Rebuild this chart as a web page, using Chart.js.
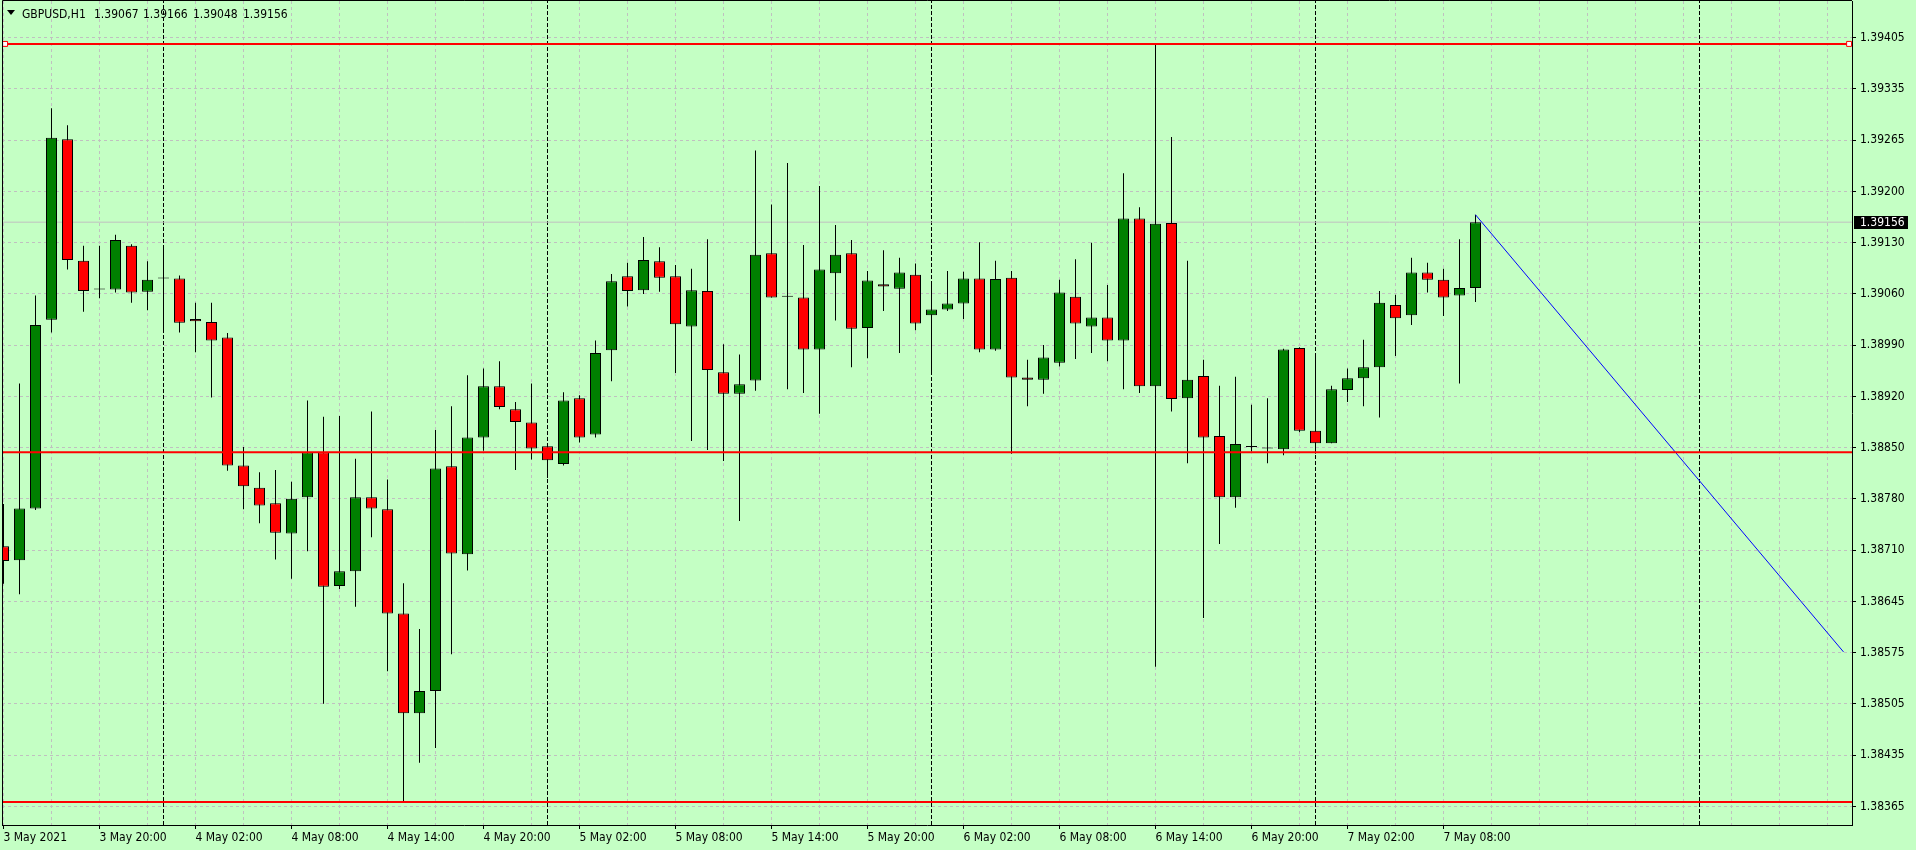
<!DOCTYPE html>
<html>
<head>
<meta charset="utf-8">
<title>GBPUSD,H1</title>
<script src="https://cdn.jsdelivr.net/npm/chart.js@4.4.1/dist/chart.umd.min.js"></script>
<style>
  html, body { margin: 0; padding: 0; background: #c4ffc4; overflow: hidden; }
  #wrap { position: relative; width: 1916px; height: 850px; }
  #chart { position: absolute; left: 0; top: 0; }
  .ttl { position: absolute; top: 7px; font: 12px 'DejaVu Sans Condensed', 'DejaVu Sans', sans-serif; line-height: 14px; color: #000; white-space: pre; }
  #tri { position: absolute; left: 7px; top: 10px; width: 0; height: 0;
         border-left: 4px solid transparent; border-right: 4px solid transparent; border-top: 5px solid #000; }
</style>
</head>
<body>
<div id="wrap">
  <canvas id="chart" width="1916" height="850"></canvas>
  <div id="tri"></div>
  <span class="ttl" id="sym" style="left:22px"></span>
  <span class="ttl" id="q0" style="left:94px"></span>
  <span class="ttl" id="q1" style="left:143px"></span>
  <span class="ttl" id="q2" style="left:193px"></span>
  <span class="ttl" id="q3" style="left:243px"></span>
</div>
<script>
// GBPUSD H1, bar 0 = 3 May 14:00
const symbol = 'GBPUSD,H1';

const opens = [
  1.38718, 1.38699, 1.38769, 1.39024, 1.39268, 1.39104, 1.39065, 1.39065, 1.39124, 1.39062,
  1.39080, 1.39080, 1.39025, 1.39021, 1.39000, 1.38827, 1.38797, 1.38776, 1.38735, 1.38784,
  1.38845, 1.38664, 1.38684, 1.38784, 1.38768, 1.38627, 1.38492, 1.38522, 1.38826, 1.38707,
  1.38865, 1.38934, 1.38903, 1.38885, 1.38853, 1.38829, 1.38918, 1.38869, 1.38983, 1.39083,
  1.39064, 1.39103, 1.39083, 1.39015, 1.39063, 1.38953, 1.38924, 1.38942, 1.39114, 1.39055,
  1.39054, 1.38984, 1.39087, 1.39114, 1.39013, 1.39072, 1.39066, 1.39085, 1.39030, 1.39038,
  1.39046, 1.39080, 1.38984, 1.39081, 1.38946, 1.38943, 1.38966, 1.39055, 1.39015, 1.39027,
  1.38996, 1.39161, 1.38934, 1.39155, 1.38918, 1.38948, 1.38867, 1.38784, 1.38852, 1.38850,
  1.38849, 1.38986, 1.38874, 1.38857, 1.38929, 1.38945, 1.38960, 1.39044, 1.39030, 1.39088,
  1.39078, 1.39057, 1.39067
];
const highs = [
  1.38775, 1.38938, 1.39057, 1.39310, 1.39287, 1.39124, 1.39124, 1.39139, 1.39126, 1.39103,
  1.39120, 1.39084, 1.39047, 1.39047, 1.39006, 1.38852, 1.38818, 1.38821, 1.38805, 1.38915,
  1.38893, 1.38894, 1.38836, 1.38900, 1.38808, 1.38668, 1.38606, 1.38875, 1.38907, 1.38949,
  1.38958, 1.38968, 1.38913, 1.38938, 1.38857, 1.38926, 1.38922, 1.38996, 1.39086, 1.39101,
  1.39136, 1.39122, 1.39098, 1.39093, 1.39133, 1.38991, 1.38977, 1.39253, 1.39180, 1.39236,
  1.39125, 1.39205, 1.39152, 1.39132, 1.39090, 1.39118, 1.39108, 1.39100, 1.39072, 1.39090,
  1.39089, 1.39129, 1.39104, 1.39090, 1.38970, 1.38990, 1.39078, 1.39106, 1.39128, 1.39071,
  1.39222, 1.39176, 1.39398, 1.39271, 1.39104, 1.38970, 1.38935, 1.38947, 1.38909, 1.38918,
  1.38985, 1.38987, 1.38976, 1.38935, 1.38958, 1.38997, 1.39063, 1.39058, 1.39108, 1.39101,
  1.39093, 1.39133, 1.39166
];
const lows = [
  1.38667, 1.38653, 1.38767, 1.39007, 1.39092, 1.39035, 1.39053, 1.39061, 1.39047, 1.39037,
  1.39010, 1.39007, 1.38980, 1.38919, 1.38820, 1.38768, 1.38749, 1.38700, 1.38674, 1.38711,
  1.38505, 1.38660, 1.38636, 1.38730, 1.38549, 1.38372, 1.38425, 1.38445, 1.38572, 1.38685,
  1.38847, 1.38903, 1.38821, 1.38835, 1.38810, 1.38827, 1.38858, 1.38865, 1.38941, 1.39042,
  1.39059, 1.39062, 1.38952, 1.38860, 1.38848, 1.38833, 1.38752, 1.38928, 1.39054, 1.38930,
  1.38925, 1.38897, 1.39023, 1.38960, 1.38972, 1.39036, 1.38979, 1.39010, 1.38954, 1.39036,
  1.39025, 1.38980, 1.38982, 1.38843, 1.38907, 1.38924, 1.38961, 1.38971, 1.38979, 1.38968,
  1.38930, 1.38925, 1.38555, 1.38900, 1.38830, 1.38621, 1.38721, 1.38770, 1.38846, 1.38830,
  1.38841, 1.38872, 1.38843, 1.38857, 1.38913, 1.38907, 1.38892, 1.38975, 1.39017, 1.39061,
  1.39029, 1.38938, 1.39048
];
const closes = [
  1.38698, 1.38769, 1.39017, 1.39270, 1.39105, 1.39063, 1.39065, 1.39132, 1.39061, 1.39078,
  1.39080, 1.39020, 1.39022, 1.38996, 1.38827, 1.38799, 1.38773, 1.38736, 1.38782, 1.38845,
  1.38663, 1.38684, 1.38784, 1.38769, 1.38627, 1.38492, 1.38522, 1.38823, 1.38708, 1.38865,
  1.38934, 1.38906, 1.38886, 1.38850, 1.38834, 1.38915, 1.38865, 1.38979, 1.39076, 1.39063,
  1.39105, 1.39081, 1.39018, 1.39064, 1.38956, 1.38924, 1.38937, 1.39112, 1.39054, 1.39055,
  1.38984, 1.39092, 1.39112, 1.39012, 1.39077, 1.39069, 1.39088, 1.39019, 1.39038, 1.39046,
  1.39080, 1.38984, 1.39079, 1.38946, 1.38943, 1.38973, 1.39061, 1.39019, 1.39027, 1.38996,
  1.39161, 1.38934, 1.39154, 1.38917, 1.38943, 1.38865, 1.38784, 1.38856, 1.38852, 1.38850,
  1.38984, 1.38874, 1.38857, 1.38930, 1.38945, 1.38960, 1.39047, 1.39026, 1.39088, 1.39078,
  1.39054, 1.39067, 1.39156
];

// time axis: a label every 6 bars, starting at bar 0
const timeLabels = [
  '3 May 2021', '3 May 20:00', '4 May 02:00', '4 May 08:00', '4 May 14:00', '4 May 20:00',
  '5 May 02:00', '5 May 08:00', '5 May 14:00', '5 May 20:00', '6 May 02:00', '6 May 08:00',
  '6 May 14:00', '6 May 20:00', '7 May 02:00', '7 May 08:00'
];
const labelEvery = 6;
const gridEvery = 3;
const daySeparators = [10, 34, 58, 82, 106];

// price axis labels, bottom to top
const priceLabels = [
  '1.38365', '1.38435', '1.38505', '1.38575', '1.38645', '1.38710', '1.38780', '1.38850',
  '1.38920', '1.38990', '1.39060', '1.39130', '1.39200', '1.39265', '1.39335', '1.39405'
];
const gridLow = 1.38366;
const gridStep = 0.000693;

// drawn objects
const hLevels = [1.39397, 1.38845, 1.38372];
const selectedLevelMarks = [0.1, 115.35];
const trendLine = [[92, 1.39166], [115, 1.38575]];

// visible range
const xMin = -0.09375, xMax = 115.53125;
const yMin = 1.38341, yMax = 1.39455;

const FONT = "'DejaVu Sans Condensed', 'DejaVu Sans', sans-serif";
const GRID = '#c0c0c0';
const lastIdx = closes.length - 1;

// title
document.getElementById('sym').textContent = symbol;
[opens[lastIdx], highs[lastIdx], lows[lastIdx], closes[lastIdx]].forEach((v, i) => {
  document.getElementById('q' + i).textContent = v.toFixed(5);
});

const bars = opens.map((_, i) => i);
const bodyData = bars.map(i => ({ x: i, y: [opens[i], closes[i]] }));
const wickData = bars.map(i => ({ x: i, y: [lows[i], highs[i]] }));
const bodyColors = bars.map(i => closes[i] >= opens[i] ? '#008000' : '#ff0000');

const sepData = [];
daySeparators.forEach(b => {
  sepData.push({ x: b, y: yMin }, { x: b, y: yMax }, { x: b, y: null });
});

function levelData(v, marks) {
  const pts = [{ x: xMin, y: v }];
  (marks || []).forEach(m => pts.push({ x: m, y: v }));
  pts.push({ x: xMax, y: v });
  return pts;
}

const levelSets = hLevels.map((v, k) => ({
  type: 'line',
  data: levelData(v, k === 0 ? selectedLevelMarks : null),
  borderColor: '#ff0000',
  borderWidth: 2,
  pointStyle: 'rect',
  pointRadius: k === 0 ? [0, 3.5, 3.5, 0] : 0,
  pointBackgroundColor: '#ffffff',
  pointBorderColor: '#ff0000',
  pointBorderWidth: 1,
  order: 0
}));

// frame (left/top) and last price tag
const framePlugin = {
  id: 'frame',
  afterDraw(chart) {
    const { ctx, chartArea: a, scales: { y } } = chart;
    ctx.save();
    ctx.strokeStyle = '#000';
    ctx.lineWidth = 1;
    ctx.beginPath();
    ctx.moveTo(a.left + 0.5, a.bottom);
    ctx.lineTo(a.left + 0.5, a.top - 0.5);
    ctx.lineTo(a.right, a.top - 0.5);
    ctx.stroke();

    const py = Math.round(y.getPixelForValue(closes[lastIdx]));
    ctx.fillStyle = '#000';
    ctx.fillRect(a.right + 2, py - 6, 54, 13);
    ctx.fillStyle = '#fff';
    ctx.font = '12px ' + FONT;
    ctx.textBaseline = 'middle';
    ctx.textAlign = 'left';
    ctx.fillText(closes[lastIdx].toFixed(5), a.right + 8, py + 0.5);
    ctx.restore();
  }
};

new Chart(document.getElementById('chart'), {
  type: 'bar',
  data: {
    datasets: [
      ...levelSets,
      {
        type: 'line',
        data: trendLine.map(p => ({ x: p[0], y: p[1] })),
        borderColor: '#0000ff',
        borderWidth: 1,
        pointRadius: 0,
        order: 0
      },
      {
        type: 'bar',
        data: bodyData,
        backgroundColor: bodyColors,
        borderColor: '#000',
        borderWidth: 1,
        borderSkipped: false,
        maxBarThickness: 11,
        minBarLength: 1,
        inflateAmount: 0,
        grouped: false,
        order: 1
      },
      {
        type: 'bar',
        data: wickData,
        backgroundColor: '#000',
        borderWidth: 0,
        maxBarThickness: 1,
        inflateAmount: 0,
        grouped: false,
        order: 2
      },
      {
        type: 'line',
        data: levelData(closes[lastIdx]),
        borderColor: '#c0c0c0',
        borderWidth: 1,
        pointRadius: 0,
        order: 3
      },
      {
        type: 'line',
        data: sepData,
        borderColor: '#000',
        borderWidth: 1,
        borderDash: [4, 2],
        pointRadius: 0,
        spanGaps: false,
        order: 4
      }
    ]
  },
  options: {
    responsive: false,
    animation: false,
    devicePixelRatio: 1,
    layout: { padding: { left: 2, top: 1, right: 0, bottom: 0 } },
    plugins: { legend: { display: false }, tooltip: { enabled: false } },
    scales: {
      x: {
        type: 'linear',
        min: xMin,
        max: xMax,
        offset: false,
        grid: {
          offset: false,
          color: GRID,
          lineWidth: 1,
          tickLength: 4,
          tickColor: c => (c.tick && c.tick.value % labelEvery === 0 &&
                           c.tick.value / labelEvery < timeLabels.length) ? '#000' : 'rgba(0,0,0,0)'
        },
        border: { display: true, color: '#000', width: 1, dash: [3, 3] },
        ticks: {
          autoSkip: false,
          maxRotation: 0,
          align: 'start',
          padding: 2,
          color: '#000',
          font: { family: FONT, size: 12 },
          callback: v => (v % labelEvery === 0 && timeLabels[v / labelEvery]) || ''
        },
        afterBuildTicks: s => {
          const t = [];
          for (let v = 0; v <= xMax; v += gridEvery) t.push({ value: v });
          s.ticks = t;
        },
        afterFit: s => { s.height = 25; s.paddingLeft = 0; s.paddingRight = 0; }
      },
      y: {
        position: 'right',
        min: yMin,
        max: yMax,
        beginAtZero: false,
        grid: { color: GRID, lineWidth: 1, tickLength: 4, tickColor: '#000' },
        border: { display: true, color: '#000', width: 1, dash: [3, 3] },
        ticks: {
          autoSkip: false,
          padding: 4,
          color: '#000',
          font: { family: FONT, size: 12 },
          callback: (v, i) => priceLabels[i]
        },
        afterBuildTicks: s => {
          s.ticks = priceLabels.map((_, i) => ({ value: gridLow + i * gridStep }));
        },
        afterFit: s => { s.width = 64; s.paddingTop = 0; s.paddingBottom = 0; }
      }
    }
  },
  plugins: [framePlugin]
});
</script>
</body>
</html>
